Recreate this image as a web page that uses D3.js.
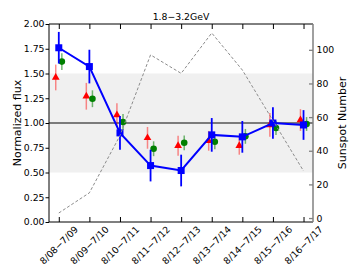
<!DOCTYPE html>
<html>
<head>
<meta charset="utf-8">
<script src="https://cdn.jsdelivr.net/npm/d3@7"></script>
<style>
  body { margin: 0; background: #fff; }
  text { font-family: "DejaVu Sans", sans-serif; }
</style>
</head>
<body>
<div id="graph"></div>
<script>
// chart data
var periods = ["8/08\u22127/09", "8/09\u22127/10", "8/10\u22127/11", "8/11\u22127/12", "8/12\u22127/13",
               "8/13\u22127/14", "8/14\u22127/15", "8/15\u22127/16", "8/16\u22127/17"];
var blueFlux = [1.76, 1.57, 0.90, 0.57, 0.52, 0.88, 0.86, 1.00, 0.98];
var blueErr  = [0.16, 0.17, 0.17, 0.16, 0.16, 0.17, 0.16, 0.16, 0.15];
var redFlux  = [1.46, 1.27, 1.08, 0.85, 0.77, 0.82, 0.77, 0.98, 1.03];
var redErr   = [0.13, 0.135, 0.12, 0.11, 0.10, 0.10, 0.09, 0.12, 0.11];
var greenFlux = [1.62, 1.245, 1.01, 0.74, 0.80, 0.81, 0.865, 0.95, 0.99];
var greenErr  = [0.085, 0.085, 0.08, 0.075, 0.075, 0.075, 0.075, 0.07, 0.07];
var sunspots = [3, 15, 49, 97, 86, 110, 88, 58, 28];
var fluxTicks = [0, 0.25, 0.5, 0.75, 1.0, 1.25, 1.5, 1.75, 2.0];
var sunTicks = [0, 20, 40, 60, 80, 100];

var w = 353, h = 265;
var pl = 49, pr = 313, pt = 24, pb = 222;

var vis = d3.select("#graph").append("svg")
  .attr("width", w).attr("height", h);

var x = d3.scaleLinear().domain([-0.32, 8.31]).range([pl, pr]);
var y = d3.scaleLinear().domain([0, 2]).range([pb, pt]);
var y2 = d3.scaleLinear().domain([-2.35, 115.35]).range([pb, pt]);

// shaded band and reference line
vis.append("rect")
  .attr("x", pl).attr("width", pr - pl)
  .attr("y", y(1.5)).attr("height", y(0.5) - y(1.5))
  .attr("fill", "#f0f0f0");
vis.append("line")
  .attr("x1", pl).attr("x2", pr)
  .attr("y1", y(1)).attr("y2", y(1))
  .attr("stroke", "#555").attr("stroke-width", 1.5);

var idx = d3.range(periods.length);

// red triangles (shifted left)
vis.selectAll(".rerr").data(idx).enter().append("line")
  .attr("x1", i => x(i - 0.1)).attr("x2", i => x(i - 0.1))
  .attr("y1", i => y(redFlux[i] - redErr[i])).attr("y2", i => y(redFlux[i] + redErr[i]))
  .attr("stroke", "#ff0000").attr("stroke-opacity", 0.45).attr("stroke-width", 1.5);
vis.selectAll(".rpt").data(idx).enter().append("path")
  .attr("d", d3.symbol(d3.symbolTriangle, 26))
  .attr("transform", i => "translate(" + x(i - 0.1) + "," + y(redFlux[i]) + ")")
  .attr("fill", "#ff0000");

// green circles (shifted right)
vis.selectAll(".gerr").data(idx).enter().append("line")
  .attr("x1", i => x(i + 0.1)).attr("x2", i => x(i + 0.1))
  .attr("y1", i => y(greenFlux[i] - greenErr[i])).attr("y2", i => y(greenFlux[i] + greenErr[i]))
  .attr("stroke", "#008000").attr("stroke-opacity", 0.55).attr("stroke-width", 1.5);
vis.selectAll(".gpt").data(idx).enter().append("circle")
  .attr("cx", i => x(i + 0.1)).attr("cy", i => y(greenFlux[i]))
  .attr("r", 3.3).attr("fill", "#008000");

// blue squares with line
vis.selectAll(".berr").data(idx).enter().append("line")
  .attr("x1", i => x(i)).attr("x2", i => x(i))
  .attr("y1", i => y(blueFlux[i] - blueErr[i])).attr("y2", i => y(blueFlux[i] + blueErr[i]))
  .attr("stroke", "#0000ff").attr("stroke-width", 1.8);
vis.append("path")
  .attr("d", d3.line().x(i => x(i)).y(i => y(blueFlux[i]))(idx))
  .attr("fill", "none").attr("stroke", "#0000ff").attr("stroke-width", 2);
vis.selectAll(".bpt").data(idx).enter().append("rect")
  .attr("x", i => x(i) - 3.5).attr("y", i => y(blueFlux[i]) - 3.5)
  .attr("width", 7).attr("height", 7).attr("fill", "#0000ff");

// sunspot number, right axis
vis.append("path")
  .attr("d", d3.line().x(i => x(i)).y(i => y2(sunspots[i]))(idx))
  .attr("fill", "none").attr("stroke", "#8c8c8c").attr("stroke-width", 1)
  .attr("stroke-dasharray", "3,2");

// axes
var fs = "9.3px";
vis.append("g").attr("transform", "translate(" + pl + ",0)")
  .call(d3.axisLeft(y).tickValues(fluxTicks).tickFormat(d3.format(".2f")).tickSize(3.5).tickPadding(1))
  .call(g => g.select(".domain").remove())
  .call(g => g.selectAll("text").attr("font-size", fs).attr("fill", "#000").style("font-family", "DejaVu Sans"));

vis.append("g").attr("transform", "translate(" + pr + ",0)")
  .call(d3.axisRight(y2).tickValues(sunTicks).tickSize(-4).tickPadding(3.5))
  .call(g => g.select(".domain").remove())
  .call(g => g.selectAll("line").attr("stroke", "#808080").attr("stroke-width", 1.3))
  .call(g => g.selectAll("text").attr("font-size", fs).attr("fill", "#000").style("font-family", "DejaVu Sans"));

vis.append("g").attr("transform", "translate(0," + pb + ")")
  .call(d3.axisBottom(x).tickValues(idx).tickSize(-5).tickFormat(""))
  .call(g => g.select(".domain").remove());
vis.append("g").attr("transform", "translate(0," + pt + ")")
  .call(d3.axisTop(x).tickValues(idx).tickSize(-5).tickFormat(""))
  .call(g => g.select(".domain").remove());

vis.selectAll(".xlab").data(idx).enter().append("text")
  .attr("transform", i => "translate(" + x(i) + ",245) rotate(-45)")
  .attr("text-anchor", "middle").attr("dominant-baseline", "central")
  .attr("font-size", fs)
  .text(i => periods[i]);

// frame
vis.append("path")
  .attr("d", "M" + pr + "," + pt + "H" + pl + "V" + pb + "H" + pr)
  .attr("fill", "none").attr("stroke", "#000").attr("stroke-width", 1);
vis.append("line")
  .attr("x1", pr).attr("x2", pr).attr("y1", pt).attr("y2", pb)
  .attr("stroke", "#808080").attr("stroke-width", 1.5);

// labels
vis.append("text").attr("x", (pl + pr) / 2).attr("y", 19.5)
  .attr("text-anchor", "middle").attr("font-size", "9.3px").text("1.8\u22123.2GeV");
vis.append("text").attr("transform", "translate(21," + (pt + pb) / 2 + ") rotate(-90)")
  .attr("text-anchor", "middle").attr("font-size", "11px").text("Normalized flux");
vis.append("text").attr("transform", "translate(346," + (pt + pb) / 2 + ") rotate(-90)")
  .attr("text-anchor", "middle").attr("font-size", "11px").text("Sunspot Number");
</script>
</body>
</html>
